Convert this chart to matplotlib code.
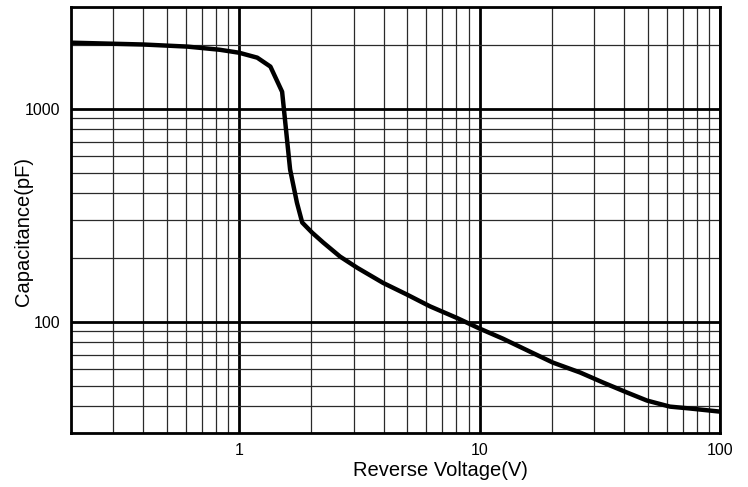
import numpy as np
import matplotlib
matplotlib.use('Agg')
import matplotlib.pyplot as plt
from matplotlib.ticker import LogLocator, NullFormatter

plt.rcParams['font.family'] = ['Liberation Sans', 'DejaVu Sans']

# 反向电压 (V) 与结电容 (pF)
voltage = [0.2, 0.4, 0.61, 0.83, 1.0, 1.19, 1.35, 1.51, 1.63, 1.74, 1.83,
           2.01, 2.24, 2.63, 3.1, 3.97, 4.99, 6.22, 8.06, 10.0, 12.5, 16.2,
           20.2, 26.2, 32.6, 41.0, 49.7, 61.9, 75.0, 100.0]
capacitance = [2040, 2000, 1955, 1890, 1830, 1735, 1575, 1200, 518, 362, 292,
               262, 235, 202, 179, 152, 134, 118, 104, 92.8, 83.2, 72.3,
               64.2, 57.7, 51.8, 46.5, 42.6, 39.9, 39.1, 37.8]

x_ticks = [1, 10, 100]
y_ticks = [100, 1000]

fig = plt.figure(figsize=(7.48, 4.87), dpi=100)
ax = fig.add_axes([71 / 748, 1 - 433 / 487, 649 / 748, 426 / 487])

ax.set_xscale('log')
ax.set_yscale('log')
ax.set_xlim(0.2, 100)
ax.set_ylim(30, 3000)

# 网格：主网格粗线，次网格细线
ax.xaxis.set_minor_locator(LogLocator(base=10, subs=np.arange(2, 10)))
ax.yaxis.set_minor_locator(LogLocator(base=10, subs=np.arange(2, 10)))
ax.xaxis.set_minor_formatter(NullFormatter())
ax.yaxis.set_minor_formatter(NullFormatter())
ax.grid(True, which='minor', color='#2a2a2a', linewidth=0.9)
ax.grid(True, which='major', color='black', linewidth=2.0)
ax.set_axisbelow(True)

ax.set_xticks(x_ticks)
ax.set_xticklabels([str(v) for v in x_ticks])
ax.set_yticks(y_ticks)
ax.set_yticklabels([str(v) for v in y_ticks])
ax.tick_params(which='both', length=0)
ax.tick_params(axis='x', pad=7, labelsize=11.5)
ax.tick_params(axis='y', pad=8, labelsize=11.5)

for sp in ax.spines.values():
    sp.set_linewidth(2.0)
    sp.set_color('black')

ax.plot(voltage, capacitance, color='black', linewidth=3.2, solid_joinstyle='round')

ax.set_xlabel('Reverse Voltage(V)', fontsize=14.5)
ax.set_ylabel('Capacitance(pF)', fontsize=14.5)
ax.xaxis.set_label_coords((440 - 71) / 649, (433 - 461) / 426)
ax.yaxis.set_label_coords((33 - 71) / 649, (433 - 232) / 426)

fig.savefig('out.png', dpi=100, facecolor='white')
